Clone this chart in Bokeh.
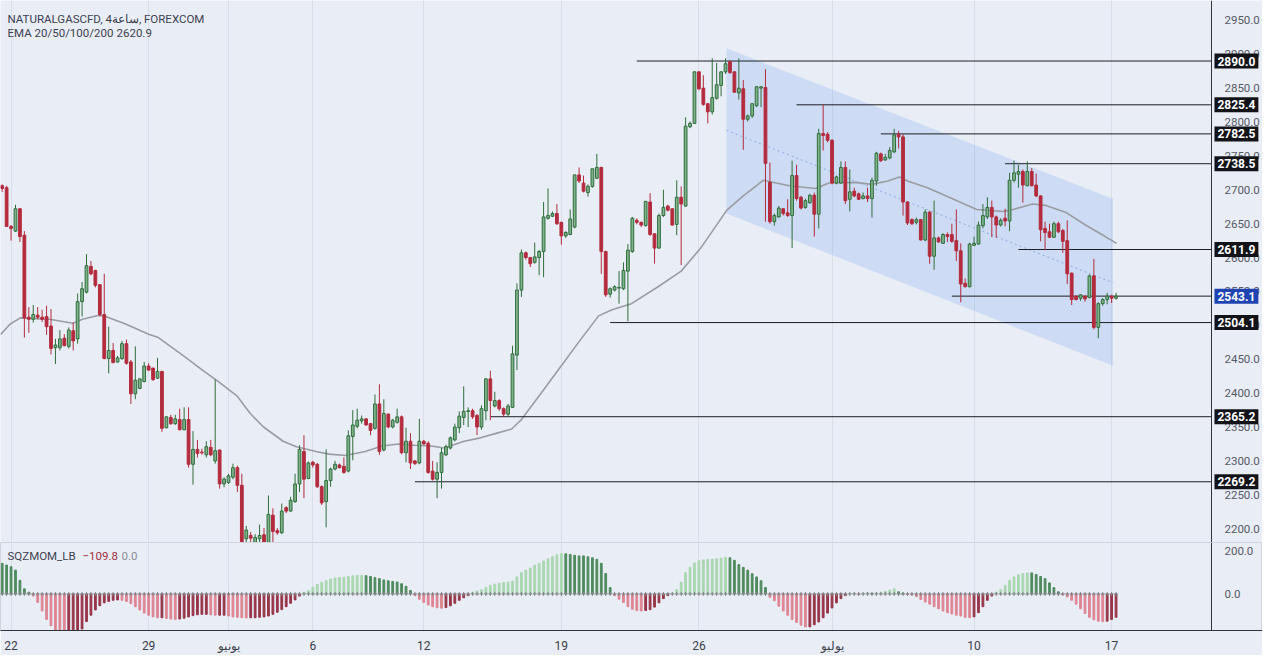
import pandas as pd
from bokeh.plotting import figure
from bokeh.layouts import column
from bokeh.models import (ColumnDataSource, FixedTicker, NumeralTickFormatter,
                          Label, Range1d, Grid, LinearAxis)
from bokeh.embed import file_html
from bokeh.resources import INLINE

# ---------------- data ----------------
opens = [
2706, 2703, 2646, 2639, 2672, 2633, 2512, 2509, 2515, 2512,
2513, 2499, 2467, 2467, 2481, 2469, 2492, 2480, 2535, 2549,
2587, 2581, 2560, 2516, 2451, 2463, 2446, 2451, 2473, 2446,
2399, 2407, 2417, 2440, 2437, 2422, 2432, 2349, 2364, 2355,
2361, 2346, 2361, 2295, 2317, 2313, 2309, 2320, 2300, 2316,
2266, 2268, 2276, 2290, 2264, 2185, 2190, 2180, 2185, 2191,
2180, 2220, 2197, 2194, 2231, 2226, 2240, 2266, 2314, 2274,
2298, 2295, 2262, 2240, 2271, 2288, 2294, 2292, 2285, 2336,
2351, 2359, 2362, 2355, 2348, 2384, 2316, 2369, 2350, 2357,
2365, 2312, 2329, 2300, 2297, 2329, 2326, 2285, 2273, 2283,
2309, 2319, 2331, 2349, 2364, 2373, 2374, 2367, 2350, 2374,
2421, 2381, 2389, 2377, 2369, 2379, 2456, 2552, 2607, 2600,
2593, 2600, 2609, 2658, 2661, 2665, 2652, 2632, 2634, 2645,
2722, 2710, 2696, 2705, 2717, 2733, 2609, 2546, 2552, 2555,
2554, 2580, 2609, 2655, 2652, 2647, 2682, 2635, 2614, 2662,
2676, 2672, 2649, 2689, 2676, 2793, 2798, 2874, 2850, 2827,
2815, 2835, 2854, 2874, 2889, 2874, 2843, 2849, 2804, 2809,
2824, 2850, 2851, 2711, 2653, 2660, 2672, 2666, 2662, 2721,
2689, 2674, 2681, 2692, 2664, 2783, 2782, 2773, 2710, 2710,
2733, 2686, 2698, 2694, 2687, 2691, 2687, 2713, 2753, 2744,
2747, 2756, 2782, 2778, 2682, 2656, 2652, 2656, 2626, 2667,
2602, 2629, 2621, 2634, 2634, 2625, 2610, 2562, 2557, 2618,
2620, 2647, 2660, 2674, 2660, 2648, 2658, 2654, 2714, 2723,
2727, 2706, 2727, 2707, 2691, 2643, 2638, 2630, 2650, 2640,
2625, 2577, 2543, 2540, 2543, 2541, 2573, 2497, 2532, 2538,
2543, 2540]

highs = [
2708, 2706, 2648, 2678, 2673, 2639, 2527, 2530, 2527, 2523,
2529, 2524, 2480, 2493, 2487, 2497, 2504, 2547, 2564, 2605,
2595, 2582, 2561, 2576, 2498, 2474, 2455, 2477, 2479, 2449,
2469, 2421, 2446, 2444, 2437, 2452, 2433, 2366, 2368, 2368,
2377, 2379, 2379, 2344, 2331, 2318, 2329, 2331, 2420, 2317,
2276, 2281, 2296, 2293, 2281, 2204, 2195, 2192, 2206, 2201,
2249, 2230, 2201, 2237, 2233, 2247, 2281, 2323, 2338, 2299,
2300, 2297, 2264, 2317, 2290, 2300, 2296, 2305, 2345, 2375,
2377, 2367, 2363, 2356, 2398, 2413, 2391, 2370, 2362, 2377,
2367, 2349, 2341, 2301, 2362, 2331, 2329, 2300, 2298, 2319,
2324, 2336, 2355, 2373, 2410, 2379, 2377, 2369, 2382, 2422,
2433, 2402, 2391, 2379, 2384, 2470, 2562, 2612, 2609, 2601,
2622, 2611, 2682, 2702, 2668, 2679, 2653, 2639, 2671, 2722,
2733, 2721, 2708, 2731, 2753, 2734, 2610, 2556, 2559, 2580,
2593, 2620, 2660, 2658, 2653, 2683, 2695, 2636, 2665, 2700,
2678, 2673, 2714, 2705, 2807, 2801, 2875, 2875, 2869, 2828,
2894, 2887, 2875, 2894, 2890, 2875, 2894, 2862, 2811, 2828,
2853, 2853, 2878, 2740, 2665, 2676, 2673, 2686, 2743, 2737,
2691, 2687, 2694, 2696, 2790, 2826, 2785, 2775, 2721, 2742,
2742, 2730, 2703, 2696, 2696, 2703, 2718, 2756, 2755, 2753,
2763, 2790, 2787, 2782, 2683, 2658, 2659, 2657, 2671, 2669,
2684, 2631, 2636, 2637, 2650, 2671, 2621, 2569, 2622, 2631,
2653, 2679, 2689, 2684, 2662, 2658, 2672, 2725, 2743, 2737,
2730, 2742, 2732, 2724, 2692, 2653, 2650, 2653, 2653, 2642,
2655, 2578, 2544, 2546, 2544, 2575, 2598, 2534, 2540, 2548,
2545, 2548]

lows = [
2697, 2645, 2625, 2638, 2623, 2482, 2489, 2504, 2509, 2505,
2486, 2457, 2443, 2463, 2469, 2466, 2463, 2473, 2513, 2547,
2574, 2556, 2513, 2450, 2429, 2444, 2445, 2449, 2442, 2384,
2391, 2406, 2416, 2433, 2418, 2421, 2343, 2348, 2353, 2353,
2345, 2345, 2290, 2265, 2305, 2309, 2305, 2307, 2296, 2259,
2261, 2266, 2273, 2254, 2170, 2172, 2176, 2176, 2178, 2176,
2177, 2180, 2191, 2192, 2223, 2225, 2238, 2254, 2245, 2273,
2290, 2260, 2235, 2202, 2262, 2286, 2289, 2281, 2283, 2301,
2348, 2355, 2352, 2338, 2346, 2309, 2314, 2348, 2348, 2355,
2310, 2298, 2288, 2294, 2295, 2324, 2281, 2271, 2245, 2259,
2307, 2317, 2329, 2341, 2353, 2350, 2362, 2338, 2346, 2360,
2360, 2379, 2374, 2365, 2365, 2378, 2434, 2542, 2597, 2586,
2591, 2574, 2571, 2656, 2660, 2648, 2619, 2629, 2633, 2643,
2710, 2696, 2690, 2703, 2716, 2576, 2542, 2541, 2550, 2532,
2552, 2506, 2607, 2649, 2645, 2646, 2632, 2591, 2613, 2660,
2668, 2647, 2633, 2589, 2675, 2791, 2797, 2847, 2824, 2798,
2811, 2833, 2838, 2871, 2871, 2843, 2833, 2759, 2801, 2806,
2822, 2822, 2653, 2650, 2647, 2659, 2662, 2660, 2614, 2684,
2671, 2672, 2679, 2631, 2643, 2758, 2770, 2708, 2708, 2709,
2679, 2668, 2689, 2685, 2686, 2682, 2659, 2706, 2741, 2743,
2745, 2754, 2761, 2662, 2648, 2648, 2649, 2625, 2624, 2591,
2582, 2622, 2620, 2623, 2622, 2595, 2534, 2556, 2556, 2617,
2619, 2643, 2657, 2630, 2629, 2646, 2646, 2639, 2711, 2703,
2681, 2705, 2705, 2689, 2624, 2611, 2629, 2629, 2636, 2607,
2561, 2530, 2537, 2536, 2535, 2540, 2494, 2481, 2529, 2531,
2533, 2538]

closes = [
2702, 2646, 2643, 2672, 2631, 2511, 2509, 2516, 2512, 2509,
2498, 2466, 2471, 2480, 2470, 2493, 2477, 2535, 2554, 2588,
2576, 2559, 2516, 2451, 2463, 2445, 2452, 2473, 2444, 2399,
2419, 2421, 2440, 2434, 2420, 2432, 2348, 2365, 2355, 2362,
2346, 2361, 2295, 2317, 2311, 2312, 2321, 2309, 2315, 2266,
2273, 2278, 2290, 2264, 2177, 2198, 2186, 2187, 2190, 2180,
2221, 2196, 2194, 2226, 2226, 2242, 2266, 2317, 2273, 2297,
2294, 2262, 2238, 2271, 2288, 2295, 2290, 2283, 2337, 2353,
2360, 2362, 2353, 2345, 2384, 2314, 2370, 2350, 2360, 2365,
2312, 2329, 2297, 2296, 2329, 2325, 2283, 2273, 2283, 2312,
2321, 2334, 2350, 2366, 2373, 2374, 2365, 2350, 2377, 2421,
2389, 2389, 2377, 2369, 2381, 2458, 2552, 2607, 2600, 2591,
2601, 2609, 2660, 2662, 2665, 2650, 2632, 2637, 2657, 2722,
2713, 2698, 2705, 2731, 2733, 2609, 2545, 2554, 2557, 2556,
2581, 2611, 2658, 2652, 2648, 2683, 2634, 2614, 2662, 2674,
2670, 2648, 2689, 2679, 2794, 2798, 2874, 2849, 2826, 2815,
2836, 2855, 2874, 2886, 2873, 2844, 2850, 2804, 2809, 2827,
2852, 2852, 2739, 2653, 2662, 2673, 2665, 2662, 2721, 2687,
2673, 2684, 2692, 2664, 2783, 2780, 2773, 2710, 2719, 2733,
2684, 2697, 2691, 2686, 2691, 2687, 2714, 2754, 2743, 2748,
2758, 2781, 2778, 2682, 2651, 2650, 2656, 2626, 2667, 2602,
2629, 2623, 2634, 2631, 2624, 2610, 2561, 2557, 2620, 2621,
2648, 2662, 2674, 2660, 2648, 2655, 2654, 2714, 2725, 2727,
2707, 2727, 2706, 2691, 2641, 2637, 2630, 2650, 2638, 2624,
2576, 2538, 2538, 2545, 2539, 2573, 2497, 2532, 2538, 2543,
2540, 2543.1]

# EMA line, read at sample bars
ema_x = [-0.4, 1.8, 4.1, 6.3, 10.7, 15.9, 18.1, 21.8, 23.3, 27.8, 33.0, 35.2,
         41.1, 45.5, 48.5, 52.9, 55.9, 58.9, 63.3, 66.3, 70.7, 73.7, 77.4,
         81.8, 85.6, 89.3, 92.9, 96.7, 99.6, 104.1, 107.8, 111.5, 114.8,
         117.0, 121.1, 125.5, 130.0, 134.4, 137.4, 141.8, 147.8, 153.0,
         157.4, 163.3, 167.0, 171.5, 174.4, 177.4, 183.3, 186.3, 192.2,
         195.9, 199.6, 202.2, 204.0, 208.5, 214.4, 219.6, 225.5, 227.8,
         232.2, 235.2, 239.6, 244.1, 247.8, 251.1]
ema_y = [2486, 2502, 2511, 2510, 2509, 2503, 2509, 2515, 2513, 2502, 2487, 2482,
         2454, 2432, 2418, 2396, 2370, 2350, 2329, 2321, 2314, 2310, 2308,
         2314, 2322, 2325, 2323, 2322, 2319, 2329, 2334, 2341, 2347,
         2361, 2397, 2436, 2476, 2514, 2523, 2532, 2557, 2580,
         2614, 2670, 2691, 2714, 2710, 2706, 2702, 2710, 2711,
         2708, 2713, 2719, 2713, 2703, 2686, 2671, 2668, 2671,
         2679, 2677, 2667, 2648, 2634, 2620.9]

# SQZMOM_LB histogram values
sqz = [
144, 136, 128, 112, 64, 24, 8, -10, -40, -80,
-120, -150, -180, -200, -205, -205, -200, -190, -165, -130,
-100, -75, -55, -42, -35, -30, -28, -30, -35, -45,
-60, -75, -90, -100, -108, -112, -112, -115, -118, -120,
-118, -114, -108, -102, -98, -96, -96, -98, -100, -100,
-100, -104, -108, -110, -112, -113, -112, -112, -110, -108,
-104, -96, -86, -74, -60, -44, -28, -10, 8, 16,
32, 45, 55, 63, 70, 75, 77, 79, 82, 85,
87, 88, 86, 82, 77, 72, 66, 62, 59, 56,
48, 36, 16, -8, -25, -40, -52, -60, -65, -67,
-64, -56, -44, -30, -18, -8, 8, 14, 20, 30,
40, 46, 50, 54, 56, 60, 80, 100, 112, 122,
135, 144, 155, 165, 175, 184, 189, 189, 186, 182,
179, 179, 175, 170, 163, 144, 96, 30, -8, -25,
-40, -60, -72, -78, -80, -78, -74, -62, -42, -22,
-8, 4, 20, 55, 100, 125, 146, 156, 160, 162,
164, 166, 168, 172, 170, 158, 138, 125, 112, 95,
80, 62, 30, -16, -32, -58, -80, -100, -120, -134,
-147, -155, -155, -145, -132, -112, -90, -66, -42, -22,
-8, 3, 5, -3, 4, 6, 3, 5, 8, 12,
18, 24, 10, 4, -3, -5, -12, -26, -38, -48,
-60, -70, -80, -88, -94, -100, -104, -110, -112, -108,
-88, -60, -30, -10, 8, 20, 40, 64, 80, 90,
96, 99, 99, 92, 82, 72, 52, 30, 10, -4,
-14, -30, -48, -70, -92, -110, -122, -128, -130, -128,
-120, -109.8]

# time axis
tick_idx = [2, 33, 51, 70, 95, 126, 157, 187, 219, 250]
tick_text = ["22", "29", "يونيو", "6", "12", "19", "26", "يوليو", "10", "17"]

# price scale
price_ticks = list(range(2200, 2951, 50))
osc_ticks = [0, 200]

# horizontal levels drawn on the chart
lvl_price = [2890.0, 2825.4, 2782.5, 2738.5, 2611.9, 2543.1, 2504.1, 2365.2, 2269.2]
lvl_start = [143, 179, 198, 226, 229, 214, 137, 110, 93]
last_price = 2543.1

# descending channel (start bar, end bar) and its three edges
chan_x = [163.2, 250.3]
chan_top = [2908.7, 2686.8]
chan_mid = [2787.7, 2562.9]
chan_bot = [2665.2, 2440.4]

# ---------------- styling / layout ----------------
BG = "#e9edf6"
GREEN_FILL = "#7fb28b"
GREEN_LINE = "#2f6d3b"
RED = "#b32b3d"
FONT = "Roboto"
TXT = "#3d4250"
W = 1262
SCALE_EDGE = 272.5          # bar position where the price scale begins
x_range = Range1d(-0.38, 284.0)

n = len(closes)
df = pd.DataFrame(dict(i=list(range(n)), o=opens, h=highs, l=lows, c=closes))
df["top"] = df[["o", "c"]].max(axis=1)
df["bot"] = df[["o", "c"]].min(axis=1)
up = ColumnDataSource(df[df.c >= df.o])
dn = ColumnDataSource(df[df.c < df.o])


def style_scale_axis(ax, ticks):
    ax.ticker = FixedTicker(ticks=ticks)
    ax.formatter = NumeralTickFormatter(format="0.0")
    ax.major_tick_out = 0
    ax.major_tick_in = 0
    ax.minor_tick_out = 0
    ax.minor_tick_in = 0
    ax.major_label_standoff = 13
    ax.major_label_text_font = FONT
    ax.major_label_text_font_size = "11.5px"
    ax.major_label_text_color = "#555a66"
    ax.axis_line_color = "#30343d"


p = figure(width=W, height=542, x_range=x_range,
           y_range=Range1d(2179.6, 2979.3), x_axis_location=None,
           y_axis_location=None, output_backend="svg", toolbar_location=None,
           background_fill_color=BG, border_fill_color=BG,
           min_border_left=0, min_border_top=0, min_border_bottom=0,
           min_border_right=0, outline_line_color=None)
p.grid.visible = False
p.add_layout(Grid(dimension=0, ticker=FixedTicker(ticks=tick_idx),
                  grid_line_color="#d9dee8", grid_line_width=1))

ya = LinearAxis(fixed_location=SCALE_EDGE)
style_scale_axis(ya, price_ticks)
p.add_layout(ya, "right")

# channel
p.patch([chan_x[0], chan_x[1], chan_x[1], chan_x[0]],
        [chan_top[0], chan_top[1], chan_bot[1], chan_bot[0]],
        fill_color="#4a86ee", fill_alpha=0.17, line_color=None)
p.line(chan_x, chan_mid, line_color="#88a8e0", line_width=1, line_dash="2 3")

# EMA
p.line(ema_x, ema_y, line_color="#9a9ca3", line_width=1.6)

# horizontal levels, up to the price scale
p.segment(x0=lvl_start, y0=lvl_price, x1=[SCALE_EDGE] * len(lvl_price),
          y1=lvl_price, line_color="#1d1f24", line_width=1)

# candles
p.segment("i", "h", "i", "l", source=up, line_color=GREEN_LINE, line_width=1)
p.segment("i", "h", "i", "l", source=dn, line_color=RED, line_width=1)
p.vbar(x="i", top="top", bottom="bot", width=0.62, source=up,
       fill_color=GREEN_FILL, line_color=GREEN_LINE, line_width=1)
p.vbar(x="i", top="top", bottom="bot", width=0.62, source=dn,
       fill_color=RED, line_color=RED, line_width=1)

# price labels on the scale
for v in lvl_price:
    p.add_layout(Label(x=SCALE_EDGE, y=v, x_offset=3, text=f"{v:.1f}",
                       text_baseline="middle", text_align="left",
                       text_font=FONT, text_font_size="12px",
                       text_font_style="bold", text_color="white",
                       background_fill_color="#1f43b0" if v == last_price else "#111318",
                       padding=3))

# legend texts
p.add_layout(Label(x=7, y=524, x_units="screen", y_units="screen",
                   text="NATURALGASCFD, 4ساعة, FOREXCOM", text_font=FONT,
                   text_font_size="11.5px", text_color=TXT,
                   text_baseline="middle"))
p.add_layout(Label(x=7, y=510, x_units="screen", y_units="screen",
                   text="EMA 20/50/100/200", text_font=FONT,
                   text_font_size="11.5px", text_color=TXT,
                   text_baseline="middle"))
p.add_layout(Label(x=116, y=510, x_units="screen", y_units="screen",
                   text="2620.9", text_font=FONT,
                   text_font_size="11.5px", text_color=TXT,
                   text_baseline="middle"))

# ---------------- oscillator pane ----------------
q = figure(width=W, height=113, x_range=x_range,
           y_range=Range1d(-172, 242), y_axis_location=None,
           output_backend="svg", toolbar_location=None,
           background_fill_color=BG, border_fill_color=BG,
           min_border_left=0, min_border_top=0, min_border_bottom=25,
           min_border_right=0, outline_line_color="#cfd4de")
q.grid.visible = False
q.add_layout(Grid(dimension=0, ticker=FixedTicker(ticks=tick_idx),
                  grid_line_color="#d9dee8", grid_line_width=1))

xa = q.xaxis[0]
xa.ticker = FixedTicker(ticks=tick_idx)
xa.major_label_overrides = {t: s for t, s in zip(tick_idx, tick_text)}
xa.major_tick_out = 0
xa.major_tick_in = 0
xa.minor_tick_out = 0
xa.minor_tick_in = 0
xa.major_label_standoff = 8
xa.major_label_text_font = FONT
xa.major_label_text_font_size = "12px"
xa.major_label_text_color = "#3a3e48"
xa.axis_line_color = "#30343d"

qa = LinearAxis(fixed_location=SCALE_EDGE)
style_scale_axis(qa, osc_ticks)
q.add_layout(qa, "right")

cols = []
for k, v in enumerate(sqz):
    prev = sqz[k - 1] if k > 0 else v
    if v >= 0:
        cols.append("#a9d7b0" if v > prev else "#4f8b5e")
    else:
        cols.append("#df8593" if v < prev else "#983548")
q.vbar(x=list(range(n)), top=sqz, bottom=0, width=0.4, color=cols)
q.scatter(x=list(range(n)), y=[0] * n, marker="cross", size=4,
          line_color="#808388", line_width=1)

q.add_layout(Label(x=7, y=75, x_units="screen", y_units="screen",
                   text="SQZMOM_LB", text_font=FONT, text_font_size="11.5px",
                   text_color=TXT, text_baseline="middle"))
q.add_layout(Label(x=82, y=75, x_units="screen", y_units="screen",
                   text="\u2212109.8", text_font=FONT, text_font_size="11.5px",
                   text_color="#a0303f", text_baseline="middle"))
q.add_layout(Label(x=121, y=75, x_units="screen", y_units="screen",
                   text="0.0", text_font=FONT, text_font_size="11.5px",
                   text_color="#8a8f99", text_baseline="middle"))

layout = column(p, q)
with open("out.html", "w", encoding="utf-8") as f:
    f.write(file_html(layout, INLINE, "NATURALGASCFD"))
